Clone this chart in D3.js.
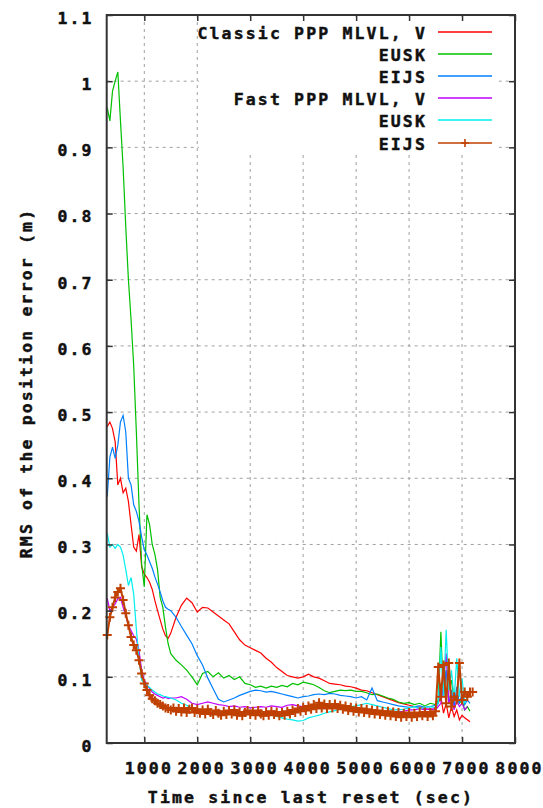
<!doctype html>
<html lang="en">
  <head>
    <meta charset="utf-8">
    <title>RMS position error</title>
    <script src="https://d3js.org/d3.v7.min.js"></script>
    <style>
      body { margin: 0; background: #fff; }
      svg text {
        font-family: "DejaVu Sans Mono", monospace;
        font-weight: bold;
        font-size: 16.5px;
        letter-spacing: 2.15px;
        fill: #111;
        stroke: #111;
        stroke-width: 0.45px;
      }
    </style>
  </head>
  <body>
    <svg></svg>
    <script>
      // time since last reset (sec)
      var times = [300,350,400,450,500,550,600,650,700,750,800,850,900,950,1000,1050,1100,1150,1200,1250,1300,1350,1400,1450,1500,
        1600,1700,1800,1900,2000,2100,2200,2300,2400,2500,2600,2700,2800,2900,3000,3100,3200,3300,3400,3500,
        3600,3700,3800,3900,4000,4100,4200,4300,4400,4500,4600,4700,4800,4900,5000,5100,5200,5300,5400,5500,
        5600,5700,5800,5900,6000,6100,6200,6300,6400,6500,
        6550,6600,6650,6700,6750,6800,6850,6900,6950,7000,7050,7100,7150,7200];

      // the fast EIJS run is sampled more densely
      var timesFine = [300,350,400,450,500,550,600,650,700,750,800,850,900,950,1000,1050,1100,1150,1200,1250,1300,1350,1400,1450,1500,
        1550,1600,1650,1700,1750,1800,1850,1900,1950,2000,2050,2100,2150,2200,2250,2300,2350,2400,2450,2500,
        2550,2600,2650,2700,2750,2800,2850,2900,2950,3000,3050,3100,3150,3200,3250,3300,3350,3400,3450,3500,
        3550,3600,3650,3700,3750,3800,3850,3900,3950,4000,4050,4100,4150,4200,4250,4300,4350,4400,4450,4500,
        4550,4600,4650,4700,4750,4800,4850,4900,4950,5000,5050,5100,5150,5200,5250,5300,5350,5400,5450,5500,
        5550,5600,5650,5700,5750,5800,5850,5900,5950,6000,6050,6100,6150,6200,6250,6300,6350,6400,6450,6500,
        6550,6600,6650,6700,6750,6800,6850,6900,6950,7000,7050,7100,7150,7200];

      // classic PPP
      var classicMLVL = [0.478,0.485,0.475,0.455,0.39,0.40,0.378,0.385,0.365,0.33,0.296,0.29,0.315,0.266,0.255,0.25,0.243,0.232,0.215,0.2,0.186,0.172,0.162,0.158,0.166,
        0.19,0.208,0.219,0.212,0.198,0.205,0.204,0.198,0.192,0.186,
        0.18,0.168,0.156,0.148,0.144,0.14,0.136,0.128,0.122,0.114,
        0.108,0.102,0.1,0.098,0.1,0.104,0.1,0.098,0.094,0.09,
        0.089,0.088,0.086,0.085,0.083,0.08,0.079,0.076,0.073,0.07,
        0.067,0.064,0.061,0.059,0.057,0.055,0.054,0.052,0.05,0.052,
        0.06,0.07,0.045,0.06,0.038,0.055,0.04,0.05,0.035,0.042,0.038,0.035,0.032,null];
      var classicEUSK = [0.96,0.94,0.985,1.0,1.014,0.94,0.87,0.78,0.70,0.64,0.57,0.47,0.36,0.27,0.236,0.345,0.33,0.30,0.285,0.262,0.22,0.205,0.175,0.15,0.135,
        0.125,0.118,0.11,0.10,0.088,0.105,0.108,0.10,0.106,0.098,
        0.102,0.096,0.10,0.09,0.088,0.084,0.086,0.083,0.086,0.084,
        0.087,0.085,0.09,0.088,0.092,0.09,0.088,0.084,0.079,0.076,
        0.078,0.08,0.079,0.08,0.078,0.078,0.076,0.073,0.074,0.071,
        0.068,0.066,0.062,0.06,0.061,0.058,0.06,0.056,0.06,0.058,
        0.065,0.168,0.07,0.11,0.08,0.095,0.065,0.07,0.06,0.065,0.05,0.055,0.048,null];
      var classicEIJS = [0.372,0.432,0.447,0.43,0.45,0.485,0.495,0.47,0.40,0.39,0.36,0.35,0.335,0.311,0.292,0.284,0.274,0.264,0.251,0.24,0.228,0.215,0.205,0.202,0.20,
        0.19,0.176,0.163,0.15,0.132,0.118,0.098,0.082,0.066,0.062,
        0.065,0.068,0.072,0.075,0.078,0.08,0.079,0.077,0.078,0.076,
        0.074,0.072,0.07,0.068,0.07,0.071,0.073,0.074,0.073,0.075,
        0.074,0.072,0.071,0.07,0.068,0.07,0.065,0.083,0.064,0.062,
        0.06,0.058,0.056,0.055,0.054,0.055,0.056,0.054,0.055,0.057,
        0.06,0.09,0.07,0.11,0.06,0.08,0.055,0.085,0.06,0.075,0.058,0.065,0.06,null];

      // fast PPP
      var fastMLVL = [0.219,0.20,0.205,0.21,0.218,0.22,0.205,0.192,0.178,0.17,0.162,0.157,0.14,0.11,0.095,0.088,0.082,0.077,0.074,0.072,0.07,0.068,0.069,0.067,0.068,
        0.068,0.07,0.066,0.06,0.058,0.06,0.062,0.06,0.058,0.057,
        0.055,0.056,0.054,0.055,0.053,0.054,0.055,0.054,0.056,0.055,
        0.054,0.057,0.058,0.056,0.055,0.057,0.055,0.054,0.056,0.055,
        0.053,0.054,0.052,0.053,0.052,0.05,0.048,0.05,0.048,0.047,
        0.048,0.046,0.047,0.048,0.05,0.05,0.052,0.05,0.052,0.05,
        0.055,0.06,0.09,0.135,0.06,0.07,0.05,0.065,0.055,0.06,0.05,0.055,null,null];
      var fastEUSK = [0.317,0.296,0.30,0.294,0.30,0.296,0.284,0.262,0.238,0.25,0.225,0.172,0.128,0.095,0.09,0.087,0.084,0.08,0.077,0.074,0.073,0.071,0.07,0.069,0.068,
        0.065,0.06,0.057,0.052,0.05,0.048,0.047,0.046,0.047,0.045,
        0.046,0.045,0.043,0.044,0.046,0.044,0.045,0.043,0.042,0.04,
        0.038,0.036,0.035,0.033,0.034,0.038,0.04,0.042,0.045,0.047,
        0.049,0.051,0.053,0.055,0.056,0.058,0.06,0.058,0.056,0.054,
        0.052,0.05,0.05,0.051,0.053,0.055,0.052,0.054,0.055,0.053,
        0.06,0.145,0.07,0.171,0.08,0.11,0.065,0.128,0.07,0.098,0.06,0.07,null,null];
      var fastEIJS = [0.163,0.19,0.205,0.22,0.228,0.234,0.216,0.196,0.178,0.16,0.148,0.14,0.125,0.105,0.09,0.08,0.072,0.067,0.064,0.06,0.058,0.056,0.053,0.052,0.05,
        0.053,0.048,0.052,0.047,0.053,0.046,0.051,0.053,0.046,0.051,0.045,0.05,0.044,0.051,0.046,0.043,0.049,0.045,0.042,0.048,
        0.043,0.049,0.044,0.05,0.042,0.047,0.041,0.046,0.049,0.043,0.048,0.042,0.049,0.044,0.041,0.047,0.042,0.048,0.043,0.047,
        0.041,0.046,0.042,0.048,0.044,0.05,0.046,0.052,0.048,0.054,0.049,0.056,0.051,0.058,0.052,0.061,0.053,0.059,0.052,0.058,
        0.053,0.059,0.052,0.057,0.051,0.056,0.049,0.054,0.048,0.053,0.047,0.052,0.046,0.051,0.045,0.05,0.044,0.049,0.043,0.048,
        0.042,0.048,0.041,0.047,0.04,0.046,0.039,0.045,0.04,0.046,0.039,0.045,0.04,0.046,0.041,0.047,0.04,0.046,0.041,0.048,
        0.115,0.07,0.118,0.06,0.121,0.055,0.07,0.065,0.121,0.065,0.077,0.07,0.077,0.077];

      var seriesNames = ["Classic PPP MLVL, V", "EUSK", "EIJS", "Fast PPP MLVL, V", "EUSK", "EIJS"];
      var seriesColors = ["#ff0000", "#00c000", "#0080ff", "#c000ff", "#00eeee", "#c04000"];

      var xTicks = [1000, 2000, 3000, 4000, 5000, 6000, 7000, 8000];
      var yTicks = [0, 0.1, 0.2, 0.3, 0.4, 0.5, 0.6, 0.7, 0.8, 0.9, 1, 1.1];

      var series = [classicMLVL, classicEUSK, classicEIJS, fastMLVL, fastEUSK, fastEIJS];
      var seriesTimes = [times, times, times, times, times, timesFine];

      var W = 543, H = 808;
      var plotL = 106.7, plotR = 515, plotT = 15, plotB = 743;

      var svg = d3.select("svg")
        .attr("width", W)
        .attr("height", H);

      var x = d3.scaleLinear().domain([290, 8000]).range([plotL, plotR]);
      var y = d3.scaleLinear().domain([0, 1.1]).range([plotB, plotT]);

      // grid
      svg.append("g").selectAll("line").data(xTicks.slice(0, -1)).enter()
        .append("line")
        .attr("x1", function(d){ return x(d) }).attr("x2", function(d){ return x(d) })
        .attr("y1", plotT).attr("y2", plotB)
        .attr("stroke", "#a0a0a0").attr("stroke-dasharray", "3,4");
      svg.append("g").selectAll("line").data(yTicks.slice(1, -1)).enter()
        .append("line")
        .attr("y1", function(d){ return y(d) }).attr("y2", function(d){ return y(d) })
        .attr("x1", plotL).attr("x2", plotR)
        .attr("stroke", "#a0a0a0").attr("stroke-dasharray", "3,4");

      // opaque key background
      svg.append("rect")
        .attr("x", 199).attr("y", 17)
        .attr("width", 300).attr("height", 136)
        .attr("fill", "#fff");

      var line = d3.line()
        .defined(function(d){ return d[1] != null })
        .x(function(d){ return x(d[0]) })
        .y(function(d){ return y(d[1]) });

      series.forEach(function(vals, i){
        var pts = seriesTimes[i].map(function(t, j){ return [t, vals[j]] });
        svg.append("path")
          .datum(pts)
          .attr("fill", "none")
          .attr("stroke", seriesColors[i])
          .attr("stroke-width", i == 5 ? 2 : 1.2)
          .attr("d", line);
      });

      // plus markers for the last series
      var plusPts = timesFine.map(function(t, j){ return [t, fastEIJS[j]] }).filter(function(d){ return d[1] != null });
      svg.append("g").selectAll("path").data(plusPts).enter()
        .append("path")
        .attr("d", function(d){
          var cx = x(d[0]), cy = y(d[1]);
          return "M" + (cx - 4.5) + "," + cy + "H" + (cx + 4.5) + "M" + cx + "," + (cy - 4.5) + "V" + (cy + 4.5);
        })
        .attr("stroke", seriesColors[5])
        .attr("stroke-width", 2);

      // axes with inward ticks, mirrored
      var fmt = function(d){ return d == 0 ? "0" : d == 1 ? "1" : d3.format(".1f")(d) };

      var gx = svg.append("g").attr("transform", "translate(0," + plotB + ")")
        .call(d3.axisBottom(x).tickValues(xTicks).tickSize(-6).tickPadding(19).tickFormat(d3.format("d")));
      gx.selectAll("text").attr("dx", 4);
      svg.append("g").attr("transform", "translate(0," + plotT + ")")
        .call(d3.axisTop(x).tickValues(xTicks).tickSize(-6).tickFormat(""));

      var gy = svg.append("g").attr("transform", "translate(" + plotL + ",0)")
        .call(d3.axisLeft(y).tickValues(yTicks).tickSize(-6).tickPadding(13).tickFormat(fmt));
      gy.selectAll("text").attr("y", 3);
      svg.append("g").attr("transform", "translate(" + plotR + ",0)")
        .call(d3.axisRight(y).tickValues(yTicks).tickSize(-6).tickFormat(""));

      svg.selectAll(".domain").remove();
      svg.selectAll(".tick line").attr("stroke", "#333").attr("stroke-width", 1.5);
      svg.selectAll(".tick text").attr("fill", "#111")
        .style("font-family", "DejaVu Sans Mono, monospace").style("font-size", "16.5px");

      // border
      svg.append("rect")
        .attr("x", plotL).attr("y", plotT)
        .attr("width", plotR - plotL).attr("height", plotB - plotT)
        .attr("fill", "none").attr("stroke", "#333").attr("stroke-width", 2);

      // key
      var keyY = [32, 54, 76, 98, 120, 143];
      seriesNames.forEach(function(name, i){
        svg.append("text")
          .attr("x", 427).attr("y", keyY[i] + 6.5)
          .attr("text-anchor", "end")
          .text(name);
        svg.append("line")
          .attr("x1", 438).attr("x2", 492)
          .attr("y1", keyY[i]).attr("y2", keyY[i])
          .attr("stroke", seriesColors[i]).attr("stroke-width", 1.5);
      });
      svg.append("path")
        .attr("d", "M461," + keyY[5] + "H469M465," + (keyY[5] - 4) + "V" + (keyY[5] + 4))
        .attr("stroke", seriesColors[5]).attr("stroke-width", 1.6);

      // axis titles
      svg.append("text")
        .attr("transform", "translate(32,383) rotate(-90)")
        .attr("text-anchor", "middle")
        .text("RMS of the position error (m)");
      svg.append("text")
        .attr("x", 311).attr("y", 803)
        .attr("text-anchor", "middle")
        .text("Time since last reset (sec)");
    </script>
  </body>
</html>
